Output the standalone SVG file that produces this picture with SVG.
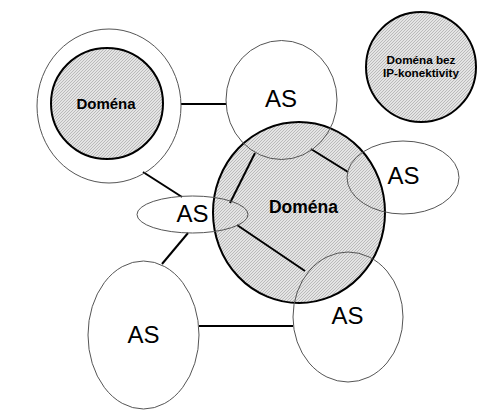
<svg xmlns="http://www.w3.org/2000/svg" width="499" height="418" viewBox="0 0 499 418">
<style>
.as{fill:none;stroke:#555;stroke-width:1}
.dom{fill:url(#hatch);stroke:#000;stroke-width:2}
.ring{fill:none;stroke:#555;stroke-width:1}
.con{stroke:#000;stroke-width:2;fill:none}
.t-as{font-family:"Liberation Sans",Arial,sans-serif;font-size:24px;fill:#000;text-anchor:middle}
.t-dom{font-family:"Liberation Sans",Arial,sans-serif;font-weight:bold;fill:#000;text-anchor:middle}
</style>
<defs>
<pattern id="hatch" patternUnits="userSpaceOnUse" width="3" height="3">
<rect width="3" height="3" fill="#e4e4e4"/>
<path d="M0,3 L3,0 M-1,1 L1,-1 M2,4 L4,2" stroke="#b0b0b0" stroke-width="0.8"/>
</pattern>
</defs>
<rect width="499" height="418" fill="#fff"/>
<g id="domena-big">
<ellipse class="dom" cx="299" cy="212.5" rx="86" ry="90.5"/>
</g>
<g id="connectors">
<line class="con" x1="181" y1="104" x2="226" y2="104"/>
<line class="con" x1="143" y1="172" x2="182" y2="197"/>
<line class="con" x1="188" y1="233" x2="162" y2="264"/>
<line class="con" x1="199" y1="326" x2="293" y2="326"/>
<line class="con" x1="255" y1="153" x2="230" y2="203"/>
<line class="con" x1="311" y1="149" x2="348" y2="172"/>
<line class="con" x1="237" y1="225" x2="305" y2="271"/>
</g>
<g id="domena-left">
<ellipse class="ring" cx="109" cy="106" rx="72" ry="77"/>
<ellipse class="dom" cx="107" cy="103.5" rx="56" ry="55.5"/>
<text class="t-dom" x="106" y="109" font-size="15">Doména</text>
</g>
<g id="domena-bez">
<circle class="dom" cx="421" cy="67" r="55"/>
<text class="t-dom" x="421" y="64" font-size="11.7">Doména bez</text>
<text class="t-dom" x="421" y="77" font-size="11.7">IP-konektivity</text>
</g>
<g id="as-top">
<ellipse class="as" cx="281.5" cy="100" rx="55.5" ry="59.5"/>
<text class="t-as" x="281" y="107">AS</text>
</g>
<g id="as-right">
<ellipse class="as" cx="403" cy="177.5" rx="56" ry="36.5"/>
<text class="t-as" x="403.5" y="184">AS</text>
</g>
<g id="as-middle">
<ellipse class="as" cx="192.5" cy="214.5" rx="55.5" ry="18.5"/>
<text class="t-as" x="192.5" y="222">AS</text>
</g>
<g id="as-bottom-left">
<ellipse class="as" cx="143.5" cy="335" rx="55.5" ry="74"/>
<text class="t-as" x="143.5" y="343">AS</text>
</g>
<g id="as-bottom-right">
<ellipse class="as" cx="348" cy="317" rx="55" ry="65"/>
<text class="t-as" x="347.5" y="324">AS</text>
</g>
<g id="domena-big-label">
<text class="t-dom" x="303.5" y="213" font-size="17.5">Doména</text>
</g>
</svg>
